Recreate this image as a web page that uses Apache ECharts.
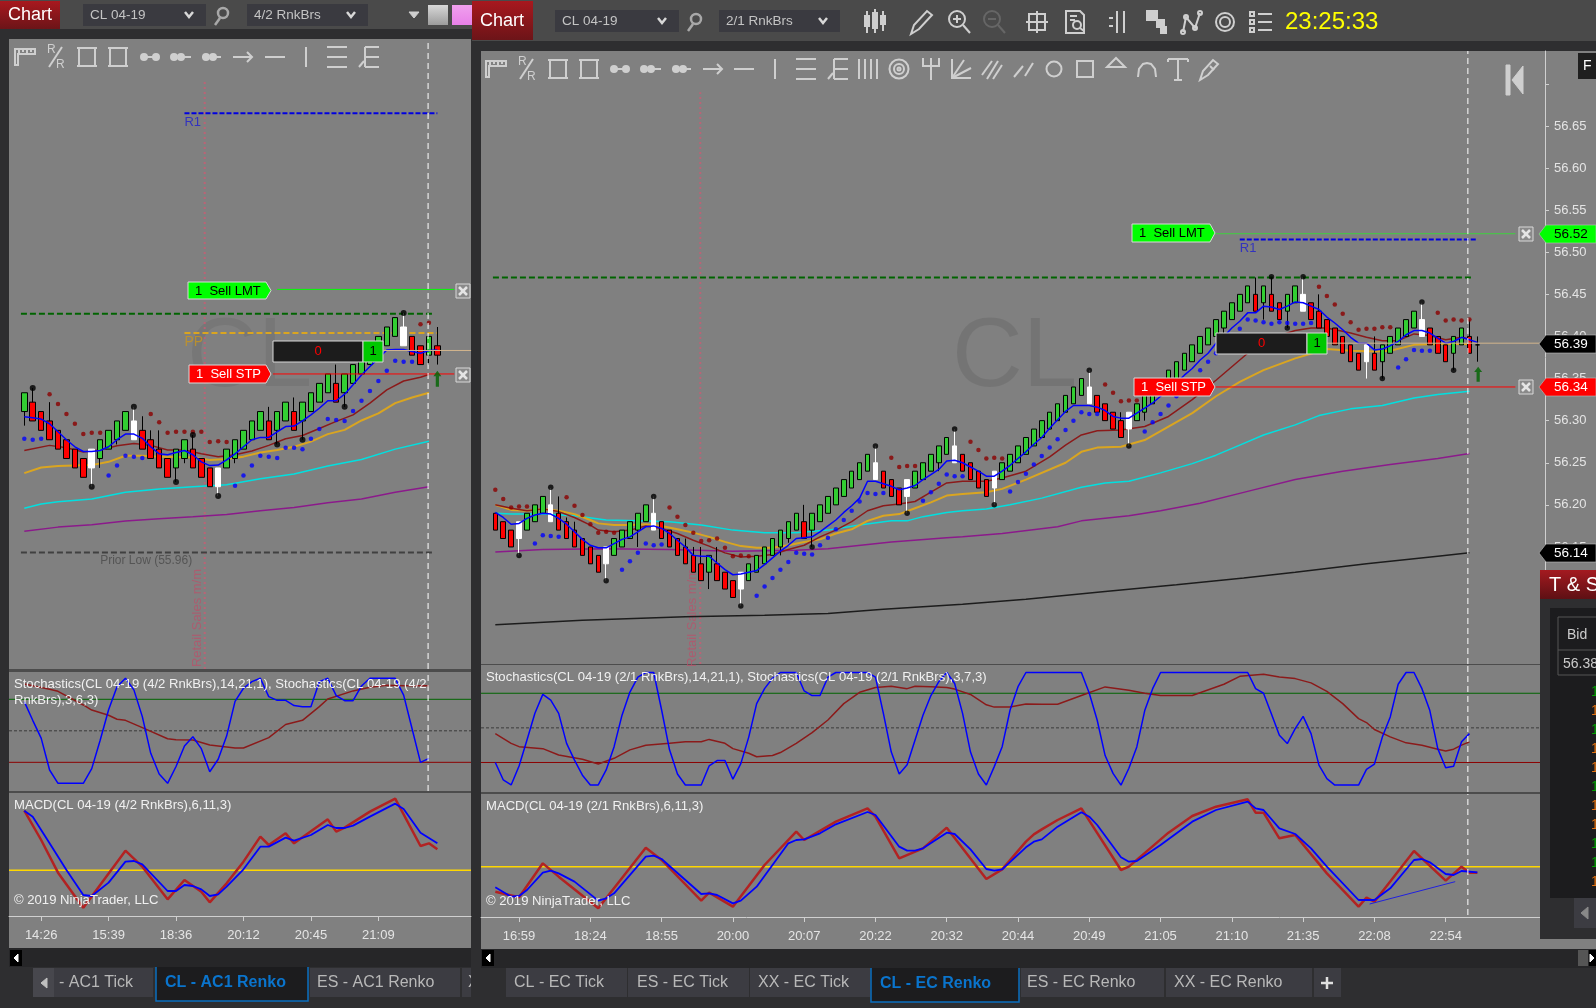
<!DOCTYPE html>
<html><head><meta charset="utf-8">
<style>html,body{margin:0;padding:0;background:#2e2e30;overflow:hidden}#c{width:1596px;height:1008px}</style>
<script src="https://cdn.jsdelivr.net/npm/echarts@6/dist/echarts.min.js"></script>
</head><body><div id="c"></div>
<script>
// ---------- LEFT CHART DATA (CL 04-19, 4/2 RnkBrs) ----------
const lTimeIdx=[2,10,18,26,34,42];
const lTimes=['14:26','15:39','18:36','20:12','20:45','21:09'];
const lOpen=[56.26,56.28,56.26,56.24,56.22,56.20,56.18,56.16,56.14,56.16,56.18,56.20,56.22,56.24,56.22,56.20,56.18,56.16,56.14,56.16,56.18,56.16,56.14,56.10,56.14,56.16,56.18,56.20,56.22,56.24,56.22,56.24,56.26,56.24,56.26,56.28,56.30,56.32,56.30,56.32,56.34,56.36,56.38,56.40,56.42,56.44,56.42,56.40,56.38,56.40];
const lClose=[56.30,56.24,56.22,56.20,56.18,56.16,56.14,56.12,56.18,56.20,56.22,56.24,56.26,56.20,56.18,56.16,56.14,56.12,56.18,56.20,56.14,56.12,56.10,56.14,56.18,56.20,56.22,56.24,56.26,56.20,56.26,56.28,56.22,56.28,56.30,56.32,56.34,56.28,56.34,56.36,56.38,56.40,56.42,56.44,56.46,56.40,56.38,56.36,56.42,56.38];
const lHigh={1:56.31,3:56.28,13:56.27,14:56.25,15:56.22,16:56.22,20:56.21,29:56.27,32:56.29,37:56.36,45:56.47,49:56.44};
const lLow={0:56.23,8:56.10,9:56.14,11:56.19,18:56.11,19:56.15,23:56.08,25:56.15,30:56.19,33:56.20,38:56.27,48:56.36,49:56.36};
const lWhite=[8,13,23,45];
const lBlue=[56.249,56.247,56.244,56.234,56.217,56.2,56.185,56.175,56.175,56.177,56.185,56.2,56.212,56.212,56.203,56.185,56.17,56.168,56.173,56.177,56.168,56.153,56.145,56.146,56.157,56.17,56.185,56.2,56.205,56.205,56.217,56.228,56.229,56.24,56.253,56.267,56.283,56.283,56.297,56.317,56.338,56.356,56.373,56.391,56.392,56.392,56.388,56.384,56.39,56.391];
const lMaroon=[[0,56.177],[3,56.188],[5,56.183],[7,56.174],[9,56.178],[11,56.187],[13,56.192],[15,56.188],[17,56.178],[19,56.178],[21,56.17],[23,56.164],[25,56.168],[27,56.176],[29,56.188],[31,56.202],[33,56.209],[35,56.224],[37,56.239],[39,56.253],[41,56.278],[43,56.306],[45,56.325],[47,56.333],[48,56.339]];
const lOrange=[[0,56.129],[2,56.141],[4,56.144],[6,56.145],[8,56.146],[10,56.153],[12,56.166],[14,56.166],[16,56.164],[18,56.163],[20,56.162],[22,56.157],[24,56.159],[26,56.164],[28,56.173],[30,56.178],[32,56.185],[34,56.196],[36,56.212],[38,56.221],[40,56.241],[42,56.256],[44,56.278],[46,56.29],[48,56.3]];
const lCyan=[[0,56.054],[2,56.063],[4,56.068],[8,56.074],[12,56.088],[16,56.095],[20,56.1],[24,56.104],[28,56.117],[32,56.127],[36,56.144],[40,56.158],[44,56.18],[48,56.197]];
const lPurple=[[0,56.005],[4,56.014],[8,56.019],[12,56.027],[16,56.032],[20,56.036],[24,56.041],[28,56.049],[32,56.056],[36,56.066],[40,56.074],[44,56.088],[48,56.10]];
const lRedDots=[[3,56.297],[4,56.276],[5,56.255],[6,56.234],[7,56.212],[8,56.215],[9,56.215],[15,56.255],[16,56.237],[17,56.215],[18,56.217],[19,56.217],[20,56.217],[21,56.217],[22,56.195],[23,56.197],[24,56.195],[47,56.446],[48,56.449]];
const lBlueDots=[[0,56.202],[1,56.2],[2,56.202],[10,56.124],[11,56.145],[12,56.166],[13,56.164],[14,56.161],[25,56.102],[26,56.124],[27,56.145],[28,56.166],[29,56.164],[30,56.161],[31,56.183],[32,56.183],[33,56.18],[34,56.202],[35,56.223],[36,56.244],[37,56.242],[38,56.24],[39,56.261],[40,56.283],[41,56.304],[42,56.325],[43,56.347],[44,56.368],[45,56.366],[46,56.366]];
const lBlackDots=[[1,56.31],[8,56.10],[13,56.27],[18,56.11],[20,56.21],[23,56.08],[30,56.19],[33,56.20],[38,56.27],[45,56.47]];
const lStochK=[77.8,60,43,12.7,0,0,0,0,14,41,70,92,100,89,63.5,28.6,8.9,0,16,35.6,44.4,33,11,22.9,45,78,90.5,96.8,100,82.5,79,79,74,73,73,96.8,100,83.5,78.7,78.7,92.7,100,100,100,100,84,52,20,23.8];
const lStochD=[[0,94.6],[3,89.5],[4,87.6],[7,74.6],[8,69.8],[10,64.8],[11,61],[12,60],[14,53],[17,42.5],[18,41.6],[20,41.3],[22,36.5],[25,33.7],[26,33.7],[29,43.5],[31,56],[33,60],[35,73],[36,80.3],[39,88],[41,91.4],[43,93.3],[45,93],[48,93]];
const lMacd=[[0,1.79],[2,.91],[4,-.07],[7,-1.12],[12,.59],[14,.11],[17,-.87],[19,-.29],[21,-.64],[22,-.96],[24,-.39],[26,.26],[28,1.01],[29,.76],[31,1.11],[32,.81],[36,1.53],[37,1.16],[38,1.28],[41,1.76],[44,2.15],[47,.73],[48,.81],[49,.63]];
const lAvg=[[0,1.79],[1,1.61],[3,.81],[5,.01],[7,-.74],[8,-.77],[10,-.37],[12,.26],[13,.28],[14,.18],[17,-.62],[18,-.62],[19,-.44],[20,-.47],[21,-.57],[22,-.77],[23,-.72],[24,-.49],[26,.03],[28,.71],[29,.71],[31,.98],[32,.89],[34,1.06],[36,1.36],[37,1.27],[38,1.27],[39,1.34],[41,1.61],[44,2.0],[45,1.84],[47,1.13],[49,.81]];

// ---------- RIGHT CHART DATA (CL 04-19, 2/1 RnkBrs) ----------
const rTimeIdx=[3,12,21,30,39,48,57,66,75,84,93,102,111,120];
const rTimes=['16:59','18:24','18:55','20:00','20:07','20:22','20:32','20:44','20:49','21:05','21:10','21:35','22:08','22:54'];
const rPriceLabels=[56.15,56.20,56.25,56.30,56.35,56.40,56.45,56.50,56.55,56.60,56.65];
const rPriceTicks=[56.15,56.20,56.25,56.30,56.35,56.40,56.45,56.50,56.55,56.60,56.65,56.70];
const rOpen=[56.19,56.18,56.17,56.16,56.17,56.18,56.19,56.20,56.19,56.18,56.17,56.16,56.15,56.14,56.13,56.14,56.15,56.16,56.17,56.18,56.19,56.18,56.17,56.16,56.15,56.14,56.13,56.12,56.13,56.12,56.11,56.10,56.11,56.12,56.13,56.14,56.15,56.16,56.17,56.18,56.17,56.18,56.19,56.20,56.21,56.22,56.23,56.24,56.25,56.24,56.23,56.22,56.21,56.22,56.23,56.24,56.25,56.26,56.27,56.26,56.25,56.24,56.23,56.22,56.23,56.24,56.25,56.26,56.27,56.28,56.29,56.30,56.31,56.32,56.33,56.34,56.33,56.32,56.31,56.30,56.29,56.30,56.31,56.32,56.33,56.34,56.35,56.36,56.37,56.38,56.39,56.40,56.41,56.42,56.43,56.44,56.45,56.44,56.45,56.44,56.43,56.44,56.45,56.44,56.43,56.42,56.41,56.40,56.39,56.38,56.37,56.38,56.37,56.38,56.39,56.40,56.41,56.42,56.41,56.40,56.39,56.38,56.39,56.40,56.39];
const rClose=[56.17,56.16,56.15,56.18,56.19,56.20,56.21,56.18,56.17,56.16,56.15,56.14,56.13,56.12,56.15,56.16,56.17,56.18,56.19,56.20,56.17,56.16,56.15,56.14,56.13,56.12,56.11,56.14,56.11,56.10,56.09,56.12,56.13,56.14,56.15,56.16,56.17,56.18,56.19,56.16,56.19,56.20,56.21,56.22,56.23,56.24,56.25,56.26,56.23,56.22,56.21,56.20,56.23,56.24,56.25,56.26,56.27,56.28,56.25,56.24,56.23,56.22,56.21,56.24,56.25,56.26,56.27,56.28,56.29,56.30,56.31,56.32,56.33,56.34,56.35,56.32,56.31,56.30,56.29,56.28,56.31,56.32,56.33,56.34,56.35,56.36,56.37,56.38,56.39,56.40,56.41,56.42,56.43,56.44,56.45,56.46,56.43,56.46,56.43,56.42,56.45,56.46,56.43,56.42,56.41,56.40,56.39,56.38,56.37,56.36,56.39,56.36,56.39,56.40,56.41,56.42,56.43,56.40,56.39,56.38,56.37,56.40,56.41,56.38,56.39];
const rHigh={7:56.22,8:56.21,9:56.185,10:56.18,20:56.21,24:56.16,25:56.15,26:56.15,28:56.15,39:56.20,48:56.27,58:56.29,75:56.36,79:56.31,96:56.47,98:56.47,102:56.47,104:56.45,111:56.40,117:56.44,123:56.42,124:56.40};
const rLow={3:56.14,14:56.11,18:56.15,27:56.10,31:56.08,36:56.14,37:56.155,40:56.15,52:56.19,56:56.24,63:56.20,80:56.27,82:56.30,92:56.40,97:56.42,100:56.41,110:56.35,112:56.35,121:56.36,124:56.37};
const rWhite=[3,7,14,20,31,48,52,58,63,75,80,102,110,117];
const rBlue=[56.191,56.185,56.177,56.178,56.184,56.188,56.19,56.189,56.184,56.177,56.168,56.159,56.152,56.149,56.149,56.154,56.159,56.162,56.168,56.174,56.175,56.172,56.166,56.158,56.15,56.14,56.139,56.139,56.131,56.123,56.117,56.118,56.12,56.122,56.129,56.137,56.145,56.152,56.16,56.161,56.162,56.168,56.175,56.182,56.191,56.199,56.208,56.228,56.228,56.225,56.222,56.218,56.22,56.223,56.23,56.236,56.242,56.252,56.253,56.25,56.245,56.24,56.234,56.234,56.24,56.247,56.255,56.263,56.272,56.28,56.291,56.301,56.311,56.318,56.318,56.318,56.316,56.312,56.305,56.303,56.303,56.309,56.315,56.321,56.329,56.337,56.345,56.354,56.362,56.372,56.38,56.392,56.40,56.41,56.418,56.428,56.428,56.436,56.435,56.432,56.436,56.441,56.44,56.436,56.432,56.423,56.416,56.408,56.399,56.392,56.392,56.384,56.385,56.389,56.394,56.402,56.407,56.407,56.404,56.398,56.392,56.394,56.399,56.396,56.393];
const rMaroon=[[0,56.2],[2,56.196],[4,56.193],[6,56.195],[8,56.192],[10,56.185],[12,56.176],[13,56.17],[15,56.168],[17,56.17],[19,56.175],[21,56.172],[23,56.166],[25,56.158],[27,56.151],[29,56.143],[31,56.138],[33,56.139],[35,56.141],[37,56.147],[39,56.152],[41,56.162],[43,56.17],[45,56.18],[47,56.193],[49,56.199],[51,56.201],[53,56.204],[55,56.215],[57,56.226],[59,56.228],[62,56.228],[64,56.232],[67,56.24],[70,56.257],[72,56.271],[74,56.283],[76,56.288],[79,56.289],[82,56.293],[85,56.305],[88,56.325],[91,56.348],[95,56.38],[98,56.398],[101,56.407],[103,56.41],[105,56.41],[108,56.404],[110,56.399],[112,56.395],[114,56.395],[116,56.403],[118,56.401],[120,56.396],[122,56.399],[123,56.397]];
const rOrange=[[0,56.2],[2,56.194],[4,56.193],[6,56.195],[8,56.193],[10,56.189],[12,56.182],[13,56.178],[15,56.176],[17,56.176],[19,56.177],[21,56.175],[23,56.171],[25,56.167],[27,56.162],[29,56.156],[31,56.151],[33,56.149],[35,56.149],[37,56.152],[39,56.156],[41,56.159],[43,56.166],[45,56.171],[47,56.181],[49,56.187],[51,56.189],[53,56.196],[55,56.203],[57,56.211],[59,56.213],[62,56.215],[64,56.219],[67,56.23],[72,56.25],[74,56.263],[76,56.268],[79,56.269],[82,56.277],[85,56.293],[88,56.309],[91,56.329],[94,56.346],[97,56.36],[101,56.374],[105,56.385],[108,56.383],[111,56.382],[113,56.383],[116,56.39],[119,56.391],[123,56.391]];
const rCyan=[[0,56.19],[2,56.189],[6,56.189],[10,56.187],[14,56.182],[18,56.181],[22,56.18],[26,56.176],[30,56.17],[34,56.167],[38,56.167],[42,56.17],[46,56.176],[50,56.181],[52,56.181],[54,56.186],[57,56.191],[59,56.193],[62,56.195],[65,56.2],[69,56.208],[74,56.221],[77,56.226],[80,56.228],[84,56.238],[88,56.249],[91,56.259],[94,56.271],[97,56.283],[101,56.295],[104,56.306],[108,56.314],[112,56.318],[116,56.327],[119,56.331],[123,56.335]];
const rPurple=[[0,56.144],[6,56.147],[14,56.148],[22,56.147],[30,56.145],[38,56.146],[42,56.148],[50,56.156],[57,56.161],[59,56.162],[64,56.166],[71,56.174],[74,56.181],[80,56.187],[84,56.193],[89,56.202],[95,56.216],[101,56.23],[107,56.24],[113,56.248],[119,56.255],[123,56.261]];
const rBlack=[[0,56.0575],[11,56.063],[24,56.067],[34,56.069],[42,56.071],[49,56.076],[59,56.082],[67,56.088],[77,56.097],[86,56.105],[94.5,56.113],[101,56.12],[110,56.13],[119,56.139],[123,56.143]];
const rRedDots=[[0,56.218],[1,56.207],[2,56.197],[3,56.198],[4,56.198],[9,56.209],[10,56.199],[11,56.188],[12,56.177],[13,56.167],[14,56.168],[15,56.167],[22,56.197],[23,56.186],[24,56.176],[25,56.167],[26,56.157],[27,56.158],[28,56.16],[29,56.149],[30,56.139],[31,56.14],[32,56.139],[50,56.256],[51,56.245],[52,56.246],[53,56.246],[60,56.275],[61,56.265],[62,56.255],[63,56.256],[64,56.255],[77,56.343],[78,56.333],[79,56.323],[80,56.324],[81,56.324],[104,56.459],[105,56.448],[106,56.438],[107,56.427],[108,56.417],[109,56.408],[110,56.409],[111,56.409],[112,56.411],[113,56.411],[119,56.428],[120,56.419],[121,56.42],[122,56.419],[123,56.42]];
const rBlueDots=[[5,56.154],[6,56.164],[7,56.163],[8,56.162],[16,56.123],[17,56.133],[18,56.143],[19,56.154],[20,56.152],[21,56.153],[33,56.092],[34,56.103],[35,56.113],[36,56.123],[37,56.132],[38,56.143],[39,56.142],[40,56.141],[41,56.152],[42,56.161],[43,56.171],[44,56.182],[45,56.193],[46,56.204],[47,56.214],[48,56.213],[49,56.214],[54,56.205],[55,56.215],[56,56.225],[57,56.236],[58,56.234],[59,56.234],[65,56.216],[66,56.227],[67,56.237],[68,56.248],[69,56.258],[70,56.268],[71,56.278],[72,56.289],[73,56.3],[74,56.31],[75,56.308],[76,56.308],[82,56.287],[83,56.298],[84,56.308],[85,56.318],[86,56.329],[89,56.36],[90,56.37],[91,56.38],[94,56.409],[95,56.42],[96,56.419],[97,56.417],[98,56.415],[99,56.417],[100,56.416],[101,56.415],[102,56.415],[103,56.416],[114,56.363],[115,56.373],[116,56.384],[117,56.383],[118,56.383]];
const rBlackDots=[[3,56.14],[7,56.221],[14,56.11],[20,56.21],[31,56.08],[40,56.15],[48,56.27],[52,56.19],[58,56.29],[63,56.20],[75,56.36],[80,56.27],[98,56.471],[100,56.41],[102,56.471],[112,56.35],[117,56.441],[121,56.36]];
const rStochK=[20,5,.5,17,39.5,62.6,79,74,62.6,36.6,22,9,.5,.5,13.5,33.7,61,81,94,98,98,65.5,31,10,.5,.5,.5,17,21.6,21.6,5.5,19,42,71,84,93,98,98,98,82,78,78,94,98,98,98,98,98,94,62.6,29,10,18,39.5,61,78,90,98,88.5,62.6,29,10,.5,16.4,33.7,65.5,85.7,98,98,98,98,98,98,98,98,80,56.6,26,10.5,.4,15,33.5,65,84,98,98,98,98,98,98,98,98,98,98,98,98,84,80,62,43.6,36.4,49.4,60,45,17.7,6,.4,.4,.4,.4,14,18.6,42,59.5,87.8,98,98,84,65,32,15.4,16.8,37.9,45];
const rStochD=[[0,45],[2,36.6],[3,33.7],[6,32],[8,26.5],[11,22.8],[13,18.7],[15,23.6],[17,30.9],[19,35],[22,36.6],[24,38],[26,38],[27,40],[29,36.6],[30,32],[32,28],[33,25],[35,26],[36,28.6],[38,36.6],[40,45.9],[42,56.8],[44,71],[46,80.8],[48,85],[50,86],[52,84],[53,86],[55,85.7],[57,85],[58,83.6],[60,79],[62,70],[63,68],[65,68],[67,70.7],[69,70.5],[71,70.5],[74,78],[77,85.5],[80,82.6],[82,80],[84,78],[88,78],[92,87.8],[94,94.7],[97,96.4],[99,94],[101,92.7],[103,89],[105,81.7],[107,71],[109,58],[110,54.6],[111,48.6],[113,42.2],[115,37],[117,35],[119,31.5],[120,30],[121,31.5],[122,35],[123,37.9]];
const rMacd=[[0,-.75],[3,-.92],[6,.10],[8,-.30],[13,-1.25],[19,.57],[21,.20],[26,-1.02],[27,-.78],[30,-1.20],[34,.05],[38,1.05],[39,.80],[43,1.35],[47,1.75],[48,1.50],[51,.25],[54,.55],[57,1.17],[62,-.37],[64,-.08],[67,.75],[68,.97],[69,1.12],[71,1.4],[74,1.75],[79,-.1],[80,0],[85,1.02],[88,1.52],[91,1.8],[95,2.02],[96,1.62],[97,1.62],[99,.85],[101,.95],[105,-.2],[109,-1.2],[110,-.93],[111,-1.05],[116,.47],[120,-.42],[122,0],[123,-.18],[124,-.18]];
const rAvg=[[0,-.62],[2,-.90],[3,-.88],[4,-.70],[6,-.18],[7,-.12],[8,-.20],[10,-.45],[13,-1.02],[14,-.95],[15,-.80],[19,.30],[20,.33],[21,.23],[26,-.82],[27,-.80],[28,-.85],[30,-1.10],[31,-1.02],[33,-.60],[37,.70],[38,.80],[39,.82],[41,1.0],[43,1.27],[47,1.64],[48,1.55],[51,.60],[52,.48],[53,.48],[54,.55],[57,1.02],[58,.98],[60,.52],[62,-.07],[63,-.12],[64,-.08],[67,.58],[68,.75],[69,.82],[71,1.2],[74,1.63],[75,1.5],[76,1.25],[79,.28],[80,.15],[81,.17],[84,.65],[88,1.35],[91,1.7],[95,1.95],[96,1.75],[97,1.7],[99,1.15],[101,.98],[103,.55],[105,0],[109,-1],[111,-1],[113,-.65],[116,.2],[117,.23],[118,.13],[120,-.22],[121,-.25],[122,-.13],[124,-.17]];
const rMacdTrend=[[110.4,-1.12],[121.2,-.45]];

// ---------- LEVELS ----------
const stochLevels=[80,50,20];
const lR1=56.895,lHighLine=56.468,lPP=56.427,lPriorLow=55.96,lSellLmt=56.52,lSellStp=56.34,lPos=56.39;
const rR1=56.515,rHighLine=56.47,rSellLmt=56.522,rSellStp=56.34,rPos=56.392;

// ---------- CHROME HELPERS ----------
const FF='"Liberation Sans",Arial,sans-serif';
const g=[];
const R=(x,y,w,h,fill,z=0,extra={})=>g.push({type:'rect',silent:true,z,shape:{x,y,width:w,height:h},style:Object.assign({fill},extra)});
const T=(x,y,text,fill,size=13,z=100,o={})=>g.push({type:'text',silent:true,z,x,y,rotation:o.rot||0,style:{text,fill,font:(o.bold?'bold ':'')+size+'px '+FF,textAlign:o.align||'left',align:o.align||'left',verticalAlign:'middle',textVerticalAlign:'middle'}});
// tiny path reader: M L H V h v Z plus O(cx,cy,r) circle, drawn with polyline, polygon and circle elements
const P=(x,y,d,stroke='#cfcfcf',lw=2,fill='none',z=50)=>{
  let pts=[],cx=0,cy=0;
  const style={stroke,lineWidth:lw,fill};
  const flush=closed=>{
    if(pts.length>1){
      if(closed)g.push({type:'polygon',silent:true,z,x,y,shape:{points:pts},style:Object.assign({},style)});
      else g.push({type:'polyline',silent:true,z,x,y,shape:{points:pts},style:{stroke,lineWidth:lw,fill:'none'}});
    }
    pts=[];
  };
  const re=/([MLHVhvZO])([^MLHVhvZO]*)/g;let m;
  while((m=re.exec(d))){
    const n=m[2].trim().split(/[\s,]+/).filter(s=>s.length).map(Number);
    switch(m[1]){
      case'M':flush(false);cx=n[0];cy=n[1];pts=[[cx,cy]];break;
      case'L':cx=n[0];cy=n[1];pts.push([cx,cy]);break;
      case'H':cx=n[0];pts.push([cx,cy]);break;
      case'V':cy=n[0];pts.push([cx,cy]);break;
      case'h':cx+=n[0];pts.push([cx,cy]);break;
      case'v':cy+=n[0];pts.push([cx,cy]);break;
      case'Z':flush(true);break;
      case'O':flush(false);g.push({type:'circle',silent:true,z,x,y,shape:{cx:n[0],cy:n[1],r:n[2]},style:Object.assign({},style)});break;
    }
  }
  flush(false);
};
const grad=(a,b)=>({type:'linear',x:0,y:0,x2:0,y2:1,colorStops:[{offset:0,color:a},{offset:1,color:b}]});
const C=(cx,cy,r)=>`O${cx},${cy},${r}`;
const ICON={
 ruler:'M-10,-8H10V-3H-7V8H-10ZM-6,-8V-3M-2,-8V-5M2,-8V-3M6,-8V-5',
 slash:'M-6,10L7,-10',
 box:'M-8,-9H8V9H-8ZM-10,-9H10M-10,9H10',
 db1:'M-6,0H6'+C(-6,0,3)+C(6,0,3),db2:'M0,0H10'+C(-7,0,3)+C(0,0,3),db3:'M-10,0H9'+C(-6,0,3)+C(1,0,3),
 arrow:'M-10,0H9M4,-5L9,0L4,5',dash:'M-10,0H10',vert:'M0,-10V10',lines:'M-10,-10H10M-10,0H10M-10,10H10',
 fib:'M-4,-10H10M-4,0H10M-4,10H10M-4,-10V10M-10,10L-5,4',bars:'M-9,-10V10M-3,-10V10M3,-10V10M9,-10V10',
 target:C(0,0,9.5)+C(0,0,5)+C(0,0,1.5),fork:'M-8,-11V-3H8V-11M0,-11V11',fan:'M-9,-10V9H10M-9,9L3,-9M-9,9L10,-1',
 chan:'M-10,6L0,-8M-5,10L6,-8M1,10L10,-4',para:'M-9,8L0,-3M2,7L10,-6',circle:C(0,0,7.5),rect:'M-8,-8H8V8H-8Z',
 tri:'M-9,-2H9L0,-11Z',arc:'M-9,8L-8,0L-4,-5L0,-6L4,-5L8,0L9,8',T:'M-10,-10H10M-10,-10V-7M10,-10V-7M0,-10V11M-4,11H4',
 pen:'M-9,11L-6,2L4,-9L9,-5L-1,6ZM1,-3L5,1',
 candles:'M-8,-11V11M-10,-6H-6V4H-10ZM0,-13V11M-2,-9H2V6H-2ZM8,-11V9M6,-6H10V2H6Z',
 pencil:'M-10,12L-7,3L6,-11L11,-7L-2,7Z',
 zoomp:C(-2,-3,8)+'M4,3L11,11M-6,-3H2M-2,-7V1',zoomm:C(-2,-3,8)+'M4,3L11,11M-6,-3H2',
 cross:'M-8,-8H8V8H-8ZM0,-11V11M-11,0H11',doc:'M-9,-11H5L9,-7V11H-9ZM-5,-6H2M-5,-2H0'+C(2,3,4)+'M5,6L9,9',
 bars3:'M-9,-4H-5M-9,4H-5M-1,-11V11M6,-11V11',sq:'M-9,-11H1V-2H-9ZM1,-2H8V5H1ZM5,5H10V11H5Z',
 nn:'M-8,10L-5,-5L4,6L9,-9'+C(-8,10,2)+C(-5,-5,2)+C(4,6,2)+C(9,-9,2),ring:C(0,0,9)+C(0,0,5),
 list:'M-11,-10H-7V-6H-11ZM-11,-2H-7V2H-11ZM-11,6H-7V10H-11ZM-3,-8H11M-3,0H11M-3,8H11'
};
const SOLID={db1:1,db2:1,db3:1,sq:1};
const icon=(x,y,n,c='#cfcfcf',lw=2)=>P(x,y,ICON[n],c,lw,SOLID[n]?c:'none');
const rr=(x,y)=>{T(x-8,y-7,'R','#cfcfcf',12,50);T(x+1,y+8,'R','#cfcfcf',12,50);icon(x,y,'slash')};
const drop=(x,y,w,h,text)=>{R(x,y,w,h,'#3a3a40',40);T(x+7,y+h/2,text,'#c4c4c4',13.5,50);P(x+w-17,y+h/2,'M-4,-3L0,2L4,-3','#d8d8d8',2.5)};
const tag=(x,y,w,h,text,fill,col)=>{g.push({type:'polygon',silent:true,z:90,shape:{points:[[x,y],[x+w-5,y],[x+w,y+h/2],[x+w-5,y+h],[x,y+h]]},style:{fill,stroke:'#d8d8d8',lineWidth:1}});T(x+7,y+h/2+.5,text,col,13,100)};
const pos=(x,y,w1,w2,h)=>{R(x,y,w1,h,'#1c1c1c',90,{stroke:'#d8d8d8',lineWidth:1});R(x+w1,y,w2,h,'#00c800',90,{stroke:'#d8d8d8',lineWidth:1});T(x+w1/2,y+h/2,'0','#ff0000',13,100,{align:'center'});T(x+w1+w2/2,y+h/2,'1','#000',13,100,{align:'center'})};
const xbox=(x,y)=>{R(x,y,14,14,'#8a8a8a',90,{stroke:'#d8d8d8',lineWidth:1});P(x+7,y+7,'M-4,-4L4,4M4,-4L-4,4','#e4e4e4',2.5,'none',95)};
const flag=(y,text,fill,col)=>{g.push({type:'polygon',silent:true,z:90,shape:{points:[[1539,y],[1546,y-9],[1596,y-9],[1596,y+9],[1546,y+9]]},style:{fill,stroke:'#bdbdbd',lineWidth:.6}});T(1554,y+.5,text,col,13.5,100)};
const tab=(x,y,w,h,text,tx)=>{R(x,y,w,h,'#3c3c42',40);T(tx,y+h/2,text,'#b8b8b8',16,50)};
const atab=(x,w,tx,text,y)=>{R(x,y,w,34,'#1c1c1e',42);P(0,0,`M${x},${y}V${y+34}H${x+w}V${y}`,'#0a6fc0',1.5,'none',45);T(tx,y+16,text,'#0a74cc',16,50,{bold:true})};

// page panels
R(9,39,462,630,'#808080');R(9,672,462,119,'#808080');R(9,793,462,123,'#808080');R(9,917,462,31,'#808080');
R(481,51,1115,613,'#808080');R(481,665,1060,127,'#808080');R(481,794,1060,123,'#808080');R(481,918,1115,31,'#808080');
R(9,669,462,3,'#4c4c4c');R(9,791,462,2,'#4c4c4c');R(481,664,1060,1,'#4c4c4c');R(481,792,1060,2,'#4c4c4c');
R(9,948,462,19,'#262628');R(481,949,1115,19,'#262628');
// headers
R(0,0,472,29,'#4a4a4a',0);R(472,0,1124,41,'#4a4a4a',0);R(0,29,472,10,'#2e2e30');R(472,41,1124,10,'#2e2e30');
R(0,1,60,28,grad('#a8181e','#6c1418'),40);T(8,15,'Chart','#fff',18,50);
R(472,1,61,39,grad('#a8181e','#6c1418'),40);T(480,21,'Chart','#fff',18,50);
drop(83,4,123,22,'CL 04-19');drop(247,4,121,22,'4/2 RnkBrs');drop(555,10,124,22,'CL 04-19');drop(719,10,121,22,'2/1 RnkBrs');
P(222,15,C(1,-2,5)+'M-2,3L-7,10','#a8a8a8',2.5);P(695,21,C(1,-2,5)+'M-2,3L-7,10','#a8a8a8',2.5);
P(414,15,'M-5,-3H5L0,3Z','#cfcfcf',1,'#cfcfcf');
R(428,5,20,20,grad('#d8d8d8','#9c9c9c'),40);R(452,5,20,20,grad('#f0a0ee','#e880e8'),40);
[['candles',875],['pencil',921],['zoomp',959],['cross',1037],['doc',1075],['bars3',1118],['sq',1156],['nn',1191],['ring',1225],['list',1261]].forEach(a=>icon(a[1],22,a[0]));
icon(994,22,'zoomm','#666',2);
T(1285,22,'23:25:33','#ffff00',24,60);
// drawing toolbars
const tL=[['ruler',25],['box',87],['box',118],['db1',150],['db2',181],['db3',212],['arrow',243],['dash',275],['vert',306],['lines',337],['fib',369]];
tL.forEach(a=>icon(a[1],57,a[0]));rr(55,57);
const tR=[['ruler',496],['box',558],['box',589],['db1',620],['db2',651],['db3',682],['arrow',713],['dash',744],['vert',775],['lines',806],['fib',838],['bars',868],['target',899],['fork',931],['fan',961],['chan',992],['para',1023],['circle',1054],['rect',1085],['tri',1116],['arc',1147],['T',1178],['pen',1209]];
tR.forEach(a=>icon(a[1],69,a[0]));rr(526,69);
// jump and F button
P(0,0,'M1506,65h4v30h-4ZM1523,66L1512,80L1523,94Z','#cfcfcf',1,'#cfcfcf');
R(1578,53,18,26,'#1f1f1f',60);T(1583,66,'F','#fff',14,70);
// watermarks
T(187,359,'CL','rgba(0,0,0,0.07)',98,1);T(952,359,'CL','rgba(0,0,0,0.09)',98,1);
T(197,618,'Retail Sales m/m','rgba(185,80,105,0.75)',13,1,{align:'center',rot:Math.PI/2});
T(692,618,'Retail Sales m/m','rgba(185,80,105,0.75)',13,1,{align:'center',rot:Math.PI/2});
// order widgets left
tag(188,282,83,17,'1  Sell LMT','#00ff00','#000');tag(189,365,82,18,'1  Sell STP','#ff0000','#fff');pos(273,341,90,20,21);xbox(456,284);xbox(456,368);
// order widgets right
tag(1132,224,83,18,'1  Sell LMT','#00ff00','#000');tag(1134,378,81,18,'1  Sell STP','#ff0000','#fff');pos(1216,333,91,20,21);xbox(1519,227);xbox(1519,380);
flag(234,'56.52','#00ff00','#000');flag(344,'56.39','#000','#fff');flag(387,'56.34','#ff0000','#fff');flag(553,'56.14','#000','#fff');
// indicator captions
T(14,684,'Stochastics(CL 04-19 (4/2 RnkBrs),14,21,1), Stochastics(CL 04-19 (4/2','#f0f0f0',13.1);
T(14,700,'RnkBrs),3,6,3)','#f0f0f0',13.1);
T(14,805,'MACD(CL 04-19 (4/2 RnkBrs),6,11,3)','#f0f0f0',13.1);
T(14,900,'© 2019 NinjaTrader, LLC','#f0f0f0',13.1);
T(486,677,'Stochastics(CL 04-19 (2/1 RnkBrs),14,21,1), Stochastics(CL 04-19 (2/1 RnkBrs),3,7,3)','#f0f0f0',13.1);
T(486,806,'MACD(CL 04-19 (2/1 RnkBrs),6,11,3)','#f0f0f0',13.1);
T(486,901,'© 2019 NinjaTrader, LLC','#f0f0f0',13.1);
// T & S panel
R(1540,570,56,369,'#2e2e30',80);R(1540,570,56,29,grad('#a41a20','#5e1014'),82);T(1549,585,'T & S','#fff',20,95);
R(1550,608,46,290,'#1c1c1e',83);P(0,0,'M1596,617H1558V675H1596M1558,650H1596','#555',1,'none',84);
T(1567,635,'Bid','#ccc',14,95);T(1563,664,'56.38','#ccc',14,95);
['g','o','g','o','o','g','o','o','g','g','o'].forEach((c,k)=>T(1591,692+19*k,'1',c==='g'?'#00a000':'#e07010',14,95));
R(1574,898,22,30,'#3c3c42',84);P(1584,913,'M4,-6L-3,0L4,6Z','#888',1,'#888',95);
// scroll
R(10,950,12,16,'#000',40);P(16,958,'M2,-4L-2,0L2,4Z','#fff',1,'#fff');R(482,950,12,16,'#000',40);P(488,958,'M2,-4L-2,0L2,4Z','#fff',1,'#fff');
R(1578,950,10,16,'#555',40);R(1589,950,7,16,'#000',40);P(1592,958,'M-2,-4L2,0L-2,4Z','#fff',1,'#fff');
// tabs
tab(33,968,120,29,'- AC1 Tick',59);R(33,968,21,29,'#47474d',41);P(44,983,'M3,-5L-3,0L3,5Z','#c0c0c0',1,'#c0c0c0');
atab(156,152,165,'CL - AC1 Renko',967);tab(310,968,150,29,'ES - AC1 Renko',317);tab(462,968,9,29,'X',468);R(471,968,10,40,'#2e2e30',60);
tab(506,968,121,29,'CL - EC Tick',514);tab(628,968,121,29,'ES - EC Tick',637);tab(750,968,120,29,'XX - EC Tick',758);
atab(871,148,880,'CL - EC Renko',968);tab(1021,968,143,29,'ES - EC Renko',1027);tab(1166,968,146,29,'XX - EC Renko',1174);
R(1314,968,27,29,'#3c3c42',40);P(1327,983,'M-6,0H6M0,-6V6','#e0e0e0',2.5);

// ---------- SERIES ----------
const S=[];
const dense=a=>a.map((v,i)=>[i,v]);
const line=(d,color,w,ax,o={})=>S.push(Object.assign({type:'line',xAxisIndex:ax,yAxisIndex:ax,data:d,showSymbol:false,silent:true,lineStyle:{color,width:w,type:o.dash||'solid'},z:o.z||3},o.extra||{}));
const dots=(d,color,size,ax,z=4)=>S.push({type:'scatter',xAxisIndex:ax,yAxisIndex:ax,data:d,symbolSize:size,silent:true,itemStyle:{color},z});
const note=(x,y,text,color,size,ax)=>S.push({type:'scatter',xAxisIndex:ax,yAxisIndex:ax,data:[[x,y]],symbolSize:1,silent:true,z:4,itemStyle:{color:'rgba(0,0,0,0)'},label:{show:true,formatter:text,position:'bottom',align:'left',distance:2,color,fontSize:size,fontFamily:FF}});
const candle=(o,c,h,l,wh,bw,ax)=>S.push({type:'candlestick',xAxisIndex:ax,yAxisIndex:ax,barWidth:bw,silent:true,z:3,
  itemStyle:{color:'#32cd32',color0:'#ff0000',borderColor:'#000',borderColor0:'#000',borderWidth:1},
  data:o.map((v,i)=>{const lo=l[i]!=null?l[i]:Math.min(v,c[i]),hi=h[i]!=null?h[i]:Math.max(v,c[i]);
    const it={value:[i,v,c[i],lo,hi]};
    if(wh.includes(i))it.itemStyle={color:'#fff',color0:'#fff',borderColor:'#fff',borderColor0:'#fff'};
    return it;})});
const pk='rgba(205,90,115,0.75)';
const lXmin=-1.815,lXmax=52.99,rXmin=-1.806,rXmax=132.54;

// left main (0)
line([[21.4,55.712],[21.4,56.966]],pk,2,0,{dash:[2,3],z:1});
line([[-.4,lHighLine],[48.6,lHighLine]],'#006400',2,0,{dash:[6,3]});
line([[19,lR1],[49,lR1]],'#0000e0',2,0,{dash:[5,2]});
line([[19,lPP],[49,lPP]],'#daa520',2,0,{dash:[6,3]});
line([[-.4,lPriorLow],[48.6,lPriorLow]],'#404040',2,0,{dash:[6,3]});
note(19,lR1,'R1','#1e1ed0',13,0);note(19,lPP,'PP','#c8951e',14,0);note(9,lPriorLow,'Prior Low (55.96)','#4a4a4a',12,0);
line(lPurple,'#8b1a8b',1.5,0);line(lCyan,'#00e0e0',1.5,0);line(lOrange,'#daa520',2,0);line(lMaroon,'#8b1a1a',1.5,0);
candle(lOpen,lClose,lHigh,lLow,lWhite,6,0);
line(dense(lBlue),'#0000ff',1.5,0,{z:4});
dots(lRedDots,'#8b0000',4.5,0);dots(lBlueDots,'#0000ff',4.5,0);dots(lBlackDots,'#000',6,0);
line([[30,lSellLmt],[51,lSellLmt]],'#00ff00',1,0,{z:5});line([[29.5,lSellStp],[51,lSellStp]],'#ff0000',1,0,{z:5});
line([[42.6,lPos],[53,lPos]],'#d2b48c',1,0,{z:5});
S.push({type:'scatter',xAxisIndex:0,yAxisIndex:0,data:[[49,56.33]],symbol:'path://M5,0L10,7H7V20H3V7H0Z',symbolSize:[8,16],itemStyle:{color:'#006400'},silent:true,z:6});
line([[47.9,55.712],[47.9,57.053]],'#fff',1,0,{dash:[6,4],z:6});
// left stoch (1)
stochLevels.forEach((v,k)=>line([[lXmin,v],[lXmax,v]],['#006400','#3a3a3a','#8b0000'][k],1,1,{dash:k===1?[3,2]:'solid'}));
line(lStochD,'#8b1a1a',1.5,1);line(dense(lStochK),'#0000ff',1.5,1);
line([[47.9,-7.3],[47.9,106]],'#fff',1,1,{dash:[6,4],z:6});
// left macd (2)
line([[lXmin,0],[lXmax,0]],'#ffd700',1.5,2);line(lMacd,'#b22222',2.5,2);line(lAvg,'#0000ff',1.8,2);

// right main (3)
line([[25.88,56.011],[25.88,56.69]],pk,2,3,{dash:[2,3],z:1});
line([[-.3,rHighLine],[123.4,rHighLine]],'#006400',2,3,{dash:[6,3]});
line([[94,rR1],[124,rR1]],'#0000e0',2,3,{dash:[5,2]});
note(94,rR1,'R1','#1e1ed0',13,3);
line(rBlack,'#1c1c1c',1.5,3);line(rPurple,'#8b1a8b',1.5,3);line(rCyan,'#00e0e0',1.5,3);line(rOrange,'#daa520',2,3);line(rMaroon,'#8b1a1a',1.5,3);
candle(rOpen,rClose,rHigh,rLow,rWhite,5,3);
line(dense(rBlue),'#0000ff',1.5,3,{z:4});
dots(rRedDots,'#8b0000',4.5,3);dots(rBlueDots,'#0000ff',4.5,3);dots(rBlackDots,'#000',5.5,3);
line([[90.9,rSellLmt],[128.8,rSellLmt]],'#3fd03f',1,3,{z:5});line([[90.9,rSellStp],[128.8,rSellStp]],'#ff0000',1,3,{z:5});
line([[105,rPos],[132.5,rPos]],'#d2b48c',1,3,{z:5});
S.push({type:'scatter',xAxisIndex:3,yAxisIndex:3,data:[[124.1,56.355]],symbol:'path://M5,0L10,7H7V20H3V7H0Z',symbolSize:[8,15],itemStyle:{color:'#006400'},silent:true,z:6});
line([[122.8,56.011],[122.8,56.739]],'#fff',1,3,{dash:[6,4],z:6});
// right stoch (4)
stochLevels.forEach((v,k)=>line([[rXmin,v],[rXmax,v]],['#006400','#3a3a3a','#8b0000'][k],1,4,{dash:k===1?[3,2]:'solid'}));
line(rStochD,'#8b1a1a',1.5,4);line(dense(rStochK),'#0000ff',1.5,4);
line([[122.8,-5.6],[122.8,104.5]],'#fff',1,4,{dash:[6,4],z:6});
// right macd (5)
line([[rXmin,0],[rXmax,0]],'#ffd700',1.5,5);line(rMacd,'#b22222',2.5,5);line(rAvg,'#0000ff',1.8,5);line(rMacdTrend,'#2020e0',1,5);
line([[122.8,-1.45],[122.8,2.18]],'#fff',1,5,{dash:[6,4],z:6});

// ---------- AXES ----------
const grids=[[9,39,462,630],[9,672,462,119],[9,793,462,123],[481,51,1064,613],[481,665,1064,127],[481,794,1064,123]];
const hideX=(i,a,b)=>({type:'value',gridIndex:i,min:a,max:b,show:false,splitLine:{show:false}});
const timeX=(i,a,b,idx,names)=>({type:'value',gridIndex:i,min:a,max:b,position:'bottom',z:5,splitLine:{show:false},
  axisLine:{show:true,onZero:false,lineStyle:{color:'#d0d0d0',width:1}},
  axisTick:{show:true,length:5,customValues:idx,lineStyle:{color:'#d0d0d0'}},
  axisLabel:{customValues:idx,formatter:v=>names[idx.indexOf(v)],color:'#e4e4e4',fontSize:13,margin:13,fontFamily:FF}});
const hideY=(i,a,b)=>({type:'value',gridIndex:i,min:a,max:b,show:false,splitLine:{show:false}});
const priceY={type:'value',gridIndex:3,min:56.011,max:56.739,position:'right',z:5,splitLine:{show:false},
  axisLine:{show:true,onZero:false,lineStyle:{color:'#d0d0d0'}},
  axisTick:{show:true,length:4,customValues:rPriceTicks,lineStyle:{color:'#d0d0d0'}},
  axisLabel:{customValues:rPriceLabels,formatter:v=>v.toFixed(2),color:'#e4e4e4',fontSize:13,margin:9,fontFamily:FF}};

const chart=echarts.init(document.getElementById('c'),null,{renderer:'canvas',width:1596,height:1008});
chart.setOption({
  animation:false,backgroundColor:'#2e2e30',textStyle:{fontFamily:FF},tooltip:{show:false},legend:{show:false},
  grid:grids.map(a=>({left:a[0],top:a[1],width:a[2],height:a[3],show:false,containLabel:false})),
  xAxis:[hideX(0,lXmin,lXmax),hideX(1,lXmin,lXmax),timeX(2,lXmin,lXmax,lTimeIdx,lTimes),hideX(3,rXmin,rXmax),hideX(4,rXmin,rXmax),timeX(5,rXmin,rXmax,rTimeIdx,rTimes)],
  yAxis:[hideY(0,55.712,57.053),hideY(1,-7.3,106),hideY(2,-1.37,2.32),priceY,hideY(4,-5.6,104.5),hideY(5,-1.51,2.18)],
  graphic:{elements:g},
  series:S
});
</script></body></html>
